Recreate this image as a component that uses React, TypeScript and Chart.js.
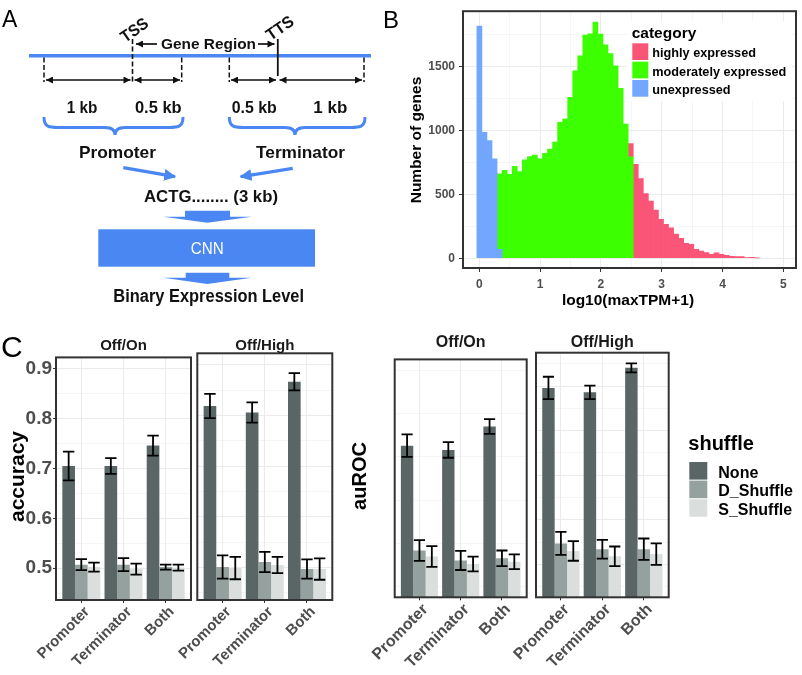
import React, { useEffect, useRef } from 'react';
import { Chart, registerables } from 'chart.js';

Chart.register(...registerables);

const SANS = "'Liberation Sans', Arial, Helvetica, sans-serif";
const DIAGRAM_FONT = "'Liberation Sans', Arial, sans-serif";
const AXIS_TEXT = '#4d4d4d';
const GRID_COLOR = '#ebebeb';
const PANEL_BORDER = '#333333';
const DIAGRAM_BLUE = '#4b87f2';

// ---------- Panel B : histogram ----------
const HIST_BIN_WIDTH = 0.083;
const UNEXPRESSED_FIRST_BIN = 0;
const UNEXPRESSED_COUNTS = [1817, 986, 921, 779, 70];
const MODERATE_FIRST_BIN = 4;
const MODERATE_COUNTS = [592, 688, 657, 719, 679, 771, 797, 807, 779, 821, 855, 909, 1064, 1090, 1259, 1468, 1584, 1747, 1757, 1849, 1755, 1670, 1602, 1506, 1330, 1050, 795];
const HIGH_FIRST_BIN = 30;
const HIGH_COUNTS = [102, 736, 624, 507, 447, 377, 304, 265, 239, 190, 156, 117, 109, 70, 57, 44, 31, 42, 31, 23, 16, 13, 13, 5, 8, 3];
const CATEGORY_LABELS = ['highly expressed', 'moderately expressed', 'unexpressed'];
const CATEGORY_COLORS = ['#fa5577', '#3cff00', '#72a6ff'];
const HIST_X_MAJOR = [0, 1, 2, 3, 4, 5];
const HIST_X_MINOR = [0.5, 1.5, 2.5, 3.5, 4.5];
const HIST_Y_MAJOR = [0, 500, 1000, 1500];
const HIST_Y_MINOR = [250, 750, 1250, 1750];

// ---------- Panel C : bar facets ----------
const FEATURES = ['Promoter', 'Terminator', 'Both'];
const SHUFFLE_LABELS = ['None', 'D_Shuffle', 'S_Shuffle'];
const SHUFFLE_COLORS = ['#5a6565', '#94a19e', '#dadfde'];
const FACETS = ['Off/On', 'Off/High'];

const ACC_OFF_ON_NONE = [0.705, 0.705, 0.746];
const ACC_OFF_ON_NONE_SD = [0.029, 0.016, 0.02];
const ACC_OFF_ON_DSHUF = [0.507, 0.507, 0.502];
const ACC_OFF_ON_DSHUF_SD = [0.011, 0.013, 0.005];
const ACC_OFF_ON_SSHUF = [0.502, 0.498, 0.501];
const ACC_OFF_ON_SSHUF_SD = [0.009, 0.011, 0.006];

const ACC_OFF_HIGH_NONE = [0.819, 0.806, 0.867];
const ACC_OFF_HIGH_NONE_SD = [0.024, 0.02, 0.017];
const ACC_OFF_HIGH_DSHUF = [0.501, 0.511, 0.497];
const ACC_OFF_HIGH_DSHUF_SD = [0.023, 0.02, 0.019];
const ACC_OFF_HIGH_SSHUF = [0.499, 0.505, 0.497];
const ACC_OFF_HIGH_SSHUF_SD = [0.022, 0.016, 0.021];

const AUROC_OFF_ON_NONE = [0.776, 0.766, 0.82];
const AUROC_OFF_ON_NONE_SD = [0.026, 0.018, 0.017];
const AUROC_OFF_ON_DSHUF = [0.534, 0.511, 0.516];
const AUROC_OFF_ON_DSHUF_SD = [0.024, 0.022, 0.018];
const AUROC_OFF_ON_SSHUF = [0.52, 0.503, 0.508];
const AUROC_OFF_ON_SSHUF_SD = [0.024, 0.017, 0.017];

const AUROC_OFF_HIGH_NONE = [0.896, 0.886, 0.941];
const AUROC_OFF_HIGH_NONE_SD = [0.025, 0.015, 0.01];
const AUROC_OFF_HIGH_DSHUF = [0.547, 0.534, 0.534];
const AUROC_OFF_HIGH_DSHUF_SD = [0.026, 0.021, 0.024];
const AUROC_OFF_HIGH_SSHUF = [0.53, 0.518, 0.523];
const AUROC_OFF_HIGH_SSHUF_SD = [0.022, 0.022, 0.024];

const ACC_Y_MAJOR = [0.5, 0.6, 0.7, 0.8, 0.9];
const ACC_Y_MINOR = [0.45, 0.55, 0.65, 0.75, 0.85];
const AUROC_Y_MAJOR = [0.5, 0.6, 0.7, 0.8, 0.9];
const AUROC_Y_MINOR = [0.45, 0.55, 0.65, 0.75, 0.85, 0.95];

// ---------- helpers ----------
const near = (list: number[], v: number) => list.some((m) => Math.abs(m - v) < 1e-9);

const panelBorder = {
  id: 'panelBorder',
  afterDraw(chart: any) {
    const { ctx, chartArea: a } = chart;
    ctx.save();
    ctx.strokeStyle = PANEL_BORDER;
    ctx.lineWidth = 2;
    ctx.strokeRect(a.left, a.top, a.right - a.left, a.bottom - a.top);
    ctx.restore();
  },
};

const errorBars = {
  id: 'errorBars',
  afterDatasetsDraw(chart: any) {
    const { ctx, chartArea: a } = chart;
    const y = chart.scales.y;
    ctx.save();
    ctx.beginPath();
    ctx.rect(a.left, a.top, a.right - a.left, a.bottom - a.top);
    ctx.clip();
    ctx.strokeStyle = '#000';
    ctx.lineWidth = 1.8;
    chart.data.datasets.forEach((ds: any, i: number) => {
      const meta = chart.getDatasetMeta(i);
      meta.data.forEach((bar: any, j: number) => {
        const v = ds.data[j].y;
        const e = ds.sd[j];
        const half = bar.width * 0.45;
        const yt = y.getPixelForValue(v + e);
        const yb = y.getPixelForValue(v - e);
        ctx.beginPath();
        ctx.moveTo(bar.x, yt);
        ctx.lineTo(bar.x, yb);
        ctx.moveTo(bar.x - half, yt);
        ctx.lineTo(bar.x + half, yt);
        ctx.moveTo(bar.x - half, yb);
        ctx.lineTo(bar.x + half, yb);
        ctx.stroke();
      });
    });
    ctx.restore();
  },
};

function toBins(first: number, counts: number[]) {
  return counts.map((c, i) => ({ x: (first + i) * HIST_BIN_WIDTH, y: c }));
}

function histogramConfig(): any {
  const dsBase = { barPercentage: 1, categoryPercentage: 1, borderWidth: 0 };
  const xTicks = [...HIST_X_MAJOR, ...HIST_X_MINOR].sort((a, b) => a - b);
  const yTicks = [...HIST_Y_MAJOR, ...HIST_Y_MINOR].sort((a, b) => a - b);
  return {
    type: 'bar',
    data: {
      datasets: [
        { ...dsBase, label: CATEGORY_LABELS[2], data: toBins(UNEXPRESSED_FIRST_BIN, UNEXPRESSED_COUNTS), backgroundColor: CATEGORY_COLORS[2] },
        { ...dsBase, label: CATEGORY_LABELS[1], data: toBins(MODERATE_FIRST_BIN, MODERATE_COUNTS), backgroundColor: CATEGORY_COLORS[1] },
        { ...dsBase, label: CATEGORY_LABELS[0], data: toBins(HIGH_FIRST_BIN, HIGH_COUNTS), backgroundColor: CATEGORY_COLORS[0] },
      ],
    },
    options: {
      responsive: false,
      animation: false,
      devicePixelRatio: 1,
      layout: { padding: { top: 10, right: 6, left: 0, bottom: 0 } },
      plugins: { legend: { display: false }, tooltip: { enabled: false }, title: { display: false } },
      scales: {
        x: {
          type: 'linear',
          stacked: true,
          min: -0.27,
          max: 5.21,
          bounds: 'data',
          offset: false,
          afterBuildTicks: (s: any) => { s.ticks = xTicks.map((v) => ({ value: v })); },
          afterFit: (s: any) => { s.height = 62; },
          ticks: {
            autoSkip: false,
            maxRotation: 0,
            padding: 5,
            color: AXIS_TEXT,
            font: { family: SANS, size: 12, weight: 'bold' },
            callback: (v: number) => (near(HIST_X_MAJOR, v) ? String(v) : ''),
          },
          grid: {
            offset: false,
            color: GRID_COLOR,
            lineWidth: (c: any) => (c.tick && near(HIST_X_MAJOR, c.tick.value) ? 1 : 0.5),
            tickColor: (c: any) => (c.tick && near(HIST_X_MAJOR, c.tick.value) ? PANEL_BORDER : 'rgba(0,0,0,0)'),
            tickLength: 4,
          },
          border: { display: false },
        },
        y: {
          type: 'linear',
          stacked: true,
          min: -76,
          max: 1934,
          bounds: 'data',
          afterBuildTicks: (s: any) => { s.ticks = yTicks.map((v) => ({ value: v })); },
          afterFit: (s: any) => { s.width = 63; },
          ticks: {
            padding: 4,
            color: AXIS_TEXT,
            font: { family: SANS, size: 12, weight: 'bold' },
            callback: (v: number) => (near(HIST_Y_MAJOR, v) ? String(v) : ''),
          },
          grid: {
            color: GRID_COLOR,
            lineWidth: (c: any) => (c.tick && near(HIST_Y_MAJOR, c.tick.value) ? 1 : 0.5),
            tickColor: (c: any) => (c.tick && near(HIST_Y_MAJOR, c.tick.value) ? PANEL_BORDER : 'rgba(0,0,0,0)'),
            tickLength: 4,
          },
          border: { display: false },
        },
      },
    },
    plugins: [panelBorder],
  };
}

type Series = { label: string; values: number[]; sd: number[]; color: string };
type FacetSpec = {
  series: Series[];
  yMin: number;
  yMax: number;
  yMajor: number[];
  yMinor: number[];
  showY: boolean;
  yAxisWidth: number;
  xAxisHeight: number;
  padding: { left: number; right: number; top: number; bottom: number };
  yFont: number;
  xFont: number;
  yTickPadding: number;
};

function facetConfig(p: FacetSpec): any {
  const yTicks = [...p.yMajor, ...p.yMinor].sort((a, b) => a - b);
  const xTicks = FEATURES.map((_, i) => i + 1);
  return {
    type: 'bar',
    data: {
      datasets: p.series.map((s) => ({
        label: s.label,
        data: s.values.map((v, i) => ({ x: i + 1, y: v })),
        sd: s.sd,
        backgroundColor: s.color,
        borderWidth: 0,
        categoryPercentage: 0.9,
        barPercentage: 1,
      })),
    },
    options: {
      responsive: false,
      animation: false,
      devicePixelRatio: 1,
      layout: { padding: p.padding },
      plugins: { legend: { display: false }, tooltip: { enabled: false }, title: { display: false } },
      scales: {
        x: {
          type: 'linear',
          min: 0.4,
          max: 3.6,
          bounds: 'data',
          offset: false,
          afterBuildTicks: (s: any) => { s.ticks = xTicks.map((v) => ({ value: v })); },
          afterFit: (s: any) => { s.height = p.xAxisHeight; },
          ticks: {
            autoSkip: false,
            minRotation: 45,
            maxRotation: 45,
            padding: 0,
            labelOffset: 6,
            color: AXIS_TEXT,
            font: { family: SANS, size: p.xFont, weight: 'bold' },
            callback: (v: number) => FEATURES[Math.round(v) - 1] ?? '',
          },
          grid: { offset: false, color: GRID_COLOR, lineWidth: 1, tickColor: PANEL_BORDER, tickLength: 3 },
          border: { display: false },
        },
        y: {
          type: 'linear',
          min: p.yMin,
          max: p.yMax,
          bounds: 'data',
          afterBuildTicks: (s: any) => { s.ticks = yTicks.map((v) => ({ value: v })); },
          afterFit: (s: any) => { s.width = p.yAxisWidth; },
          ticks: {
            display: p.showY,
            padding: p.yTickPadding,
            color: AXIS_TEXT,
            font: { family: SANS, size: p.yFont, weight: 'bold' },
            callback: (v: number) => (near(p.yMajor, v) ? v.toFixed(1) : ''),
          },
          grid: {
            color: GRID_COLOR,
            drawTicks: p.showY,
            lineWidth: (c: any) => (c.tick && near(p.yMajor, c.tick.value) ? 1 : 0.5),
            tickColor: (c: any) => (c.tick && near(p.yMajor, c.tick.value) ? PANEL_BORDER : 'rgba(0,0,0,0)'),
            tickLength: 3,
          },
          border: { display: false },
        },
      },
    },
    plugins: [panelBorder, errorBars],
  };
}

function seriesOf(none: number[], noneSd: number[], d: number[], dSd: number[], s: number[], sSd: number[]): Series[] {
  return [
    { label: SHUFFLE_LABELS[0], values: none, sd: noneSd, color: SHUFFLE_COLORS[0] },
    { label: SHUFFLE_LABELS[1], values: d, sd: dSd, color: SHUFFLE_COLORS[1] },
    { label: SHUFFLE_LABELS[2], values: s, sd: sSd, color: SHUFFLE_COLORS[2] },
  ];
}

function ChartCanvas(props: { left: number; top: number; width: number; height: number; build: () => any }) {
  const ref = useRef<HTMLCanvasElement>(null);
  useEffect(() => {
    if (!ref.current) return;
    const chart = new Chart(ref.current, props.build());
    return () => chart.destroy();
  }, []);
  return (
    <canvas
      ref={ref}
      width={props.width}
      height={props.height}
      style={{ position: 'absolute', left: props.left, top: props.top, width: props.width, height: props.height }}
    />
  );
}

const accOffOn = () =>
  facetConfig({
    series: seriesOf(ACC_OFF_ON_NONE, ACC_OFF_ON_NONE_SD, ACC_OFF_ON_DSHUF, ACC_OFF_ON_DSHUF_SD, ACC_OFF_ON_SSHUF, ACC_OFF_ON_SSHUF_SD),
    yMin: 0.436, yMax: 0.923, yMajor: ACC_Y_MAJOR, yMinor: ACC_Y_MINOR,
    showY: true, yAxisWidth: 56, xAxisHeight: 75,
    padding: { left: 0, right: 4, top: 8.3, bottom: 0 },
    yFont: 19, xFont: 15, yTickPadding: 1,
  });
const accOffHigh = () =>
  facetConfig({
    series: seriesOf(ACC_OFF_HIGH_NONE, ACC_OFF_HIGH_NONE_SD, ACC_OFF_HIGH_DSHUF, ACC_OFF_HIGH_DSHUF_SD, ACC_OFF_HIGH_SSHUF, ACC_OFF_HIGH_SSHUF_SD),
    yMin: 0.436, yMax: 0.923, yMajor: ACC_Y_MAJOR, yMinor: ACC_Y_MINOR,
    showY: false, yAxisWidth: 0, xAxisHeight: 75,
    padding: { left: 47.3, right: 3.7, top: 8.3, bottom: 0 },
    yFont: 19, xFont: 15, yTickPadding: 1,
  });
const aurocOffOn = () =>
  facetConfig({
    series: seriesOf(AUROC_OFF_ON_NONE, AUROC_OFF_ON_NONE_SD, AUROC_OFF_ON_DSHUF, AUROC_OFF_ON_DSHUF_SD, AUROC_OFF_ON_SSHUF, AUROC_OFF_ON_SSHUF_SD),
    yMin: 0.426, yMax: 0.975, yMajor: AUROC_Y_MAJOR, yMinor: AUROC_Y_MINOR,
    showY: true, yAxisWidth: 59.7, xAxisHeight: 77.7,
    padding: { left: 0, right: 3.3, top: 7.7, bottom: 0 },
    yFont: 19, xFont: 16, yTickPadding: 3,
  });
const aurocOffHigh = () =>
  facetConfig({
    series: seriesOf(AUROC_OFF_HIGH_NONE, AUROC_OFF_HIGH_NONE_SD, AUROC_OFF_HIGH_DSHUF, AUROC_OFF_HIGH_DSHUF_SD, AUROC_OFF_HIGH_SSHUF, AUROC_OFF_HIGH_SSHUF_SD),
    yMin: 0.426, yMax: 0.975, yMajor: AUROC_Y_MAJOR, yMinor: AUROC_Y_MINOR,
    showY: false, yAxisWidth: 0, xAxisHeight: 77.7,
    padding: { left: 46, right: 3.3, top: 7.7, bottom: 0 },
    yFont: 19, xFont: 16, yTickPadding: 3,
  });

function DText(props: { x: number; y: number; size: number; w?: number; children: string; fill?: string; weight?: string; anchor?: string }) {
  return (
    <text
      x={props.x}
      y={props.y}
      fontFamily={DIAGRAM_FONT}
      fontSize={props.size}
      fontWeight={props.weight ?? 'bold'}
      fill={props.fill ?? '#111'}
      textAnchor={props.anchor ?? 'middle'}
      textLength={props.w}
      lengthAdjust="spacingAndGlyphs"
    >
      {props.children}
    </text>
  );
}

function bracePath(x1: number, x2: number, c: number, y0: number, y1: number, yb: number) {
  return `M ${x1} ${y0} C ${x1} ${y1}, ${x1 + 6} ${y1}, ${x1 + 14} ${y1} L ${c - 10} ${y1} C ${c - 4} ${y1}, ${c} ${y1 + 2}, ${c} ${yb} C ${c} ${y1 + 2}, ${c + 4} ${y1}, ${c + 10} ${y1} L ${x2 - 14} ${y1} C ${x2 - 6} ${y1}, ${x2} ${y1}, ${x2} ${y0}`;
}

function Overlay() {
  const black = '#111';
  return (
    <svg width={802} height={675} style={{ position: 'absolute', left: 0, top: 0, pointerEvents: 'none' }}>
      <defs>
        <marker id="blk" viewBox="0 0 10 10" refX="10" refY="5" markerWidth="8" markerHeight="7" markerUnits="userSpaceOnUse" orient="auto-start-reverse">
          <path d="M0,0 L10,5 L0,10 z" fill={black} />
        </marker>
        <marker id="blu" viewBox="0 0 10 10" refX="9" refY="5" markerWidth="12" markerHeight="12" markerUnits="userSpaceOnUse" orient="auto">
          <path d="M0,0 L10,5 L0,10 z" fill={DIAGRAM_BLUE} />
        </marker>
      </defs>

      {/* Panel A */}
      <text x={2} y={27} fontFamily={SANS} fontSize={23} fill="#000">A</text>
      <line x1={29} y1={55.7} x2={371} y2={55.7} stroke={DIAGRAM_BLUE} strokeWidth={3.5} />
      <line x1={132.5} y1={39} x2={132.5} y2={83} stroke={black} strokeWidth={1.6} strokeDasharray="5 2.5" />
      <line x1={277.8} y1={39} x2={277.8} y2={76} stroke={black} strokeWidth={1.8} />
      {[44, 181.7, 229.3, 364].map((x) => (
        <line key={x} x1={x} y1={57.5} x2={x} y2={82} stroke={black} strokeWidth={1.5} strokeDasharray="5 2.5" />
      ))}
      {[[46, 130.5], [134.5, 180], [231, 276], [279.5, 362]].map(([a, b]) => (
        <line key={a} x1={a} y1={80} x2={b} y2={80} stroke={black} strokeWidth={1.7} markerStart="url(#blk)" markerEnd="url(#blk)" />
      ))}
      <line x1={157} y1={44} x2={136} y2={44} stroke={black} strokeWidth={1.7} markerEnd="url(#blk)" />
      <line x1={258} y1={44} x2={274.5} y2={44} stroke={black} strokeWidth={1.7} markerEnd="url(#blk)" />
      <DText x={208.5} y={48.5} size={15.5} w={95}>Gene Region</DText>
      <g transform="translate(137.5,34.5) rotate(-35)">
        <DText x={0} y={0} size={16.5} w={30}>TSS</DText>
      </g>
      <g transform="translate(283,32.5) rotate(-35)">
        <DText x={0} y={0} size={16.5} w={30}>TTS</DText>
      </g>
      <DText x={82} y={112.7} size={16} w={30.7}>1 kb</DText>
      <DText x={158.3} y={112.7} size={16} w={46.7}>0.5 kb</DText>
      <DText x={254.2} y={112.7} size={16} w={45}>0.5 kb</DText>
      <DText x={330.3} y={112.7} size={16} w={34}>1 kb</DText>
      <path d={bracePath(44, 183, 115, 117, 127.5, 135)} fill="none" stroke={DIAGRAM_BLUE} strokeWidth={3} />
      <path d={bracePath(229.3, 365, 295, 117, 127.5, 135)} fill="none" stroke={DIAGRAM_BLUE} strokeWidth={3} />
      <DText x={117.5} y={158.3} size={16.5} w={77}>Promoter</DText>
      <DText x={300.5} y={158.3} size={16.5} w={89}>Terminator</DText>
      <line x1={123.3} y1={167.7} x2={175} y2={176.7} stroke={DIAGRAM_BLUE} strokeWidth={3.3} markerEnd="url(#blu)" />
      <line x1={292.7} y1={168.3} x2={240.7} y2={176.7} stroke={DIAGRAM_BLUE} strokeWidth={3.3} markerEnd="url(#blu)" />
      <DText x={211} y={201.7} size={16.5} w={134}>ACTG........ (3 kb)</DText>
      <polygon points="185,210.7 230,210.7 230,216.7 251.7,216.7 207.3,222.7 163.3,216.7 185,216.7" fill={DIAGRAM_BLUE} />
      <rect x={98.3} y={229.3} width={216.7} height={37.4} fill={DIAGRAM_BLUE} />
      <DText x={207.3} y={254.3} size={16.5} w={33} fill="#fff" weight="normal">CNN</DText>
      <polygon points="185.7,272.7 229.3,272.7 229.3,277.7 251.7,277.7 207.3,284 163.3,277.7 185.7,277.7" fill={DIAGRAM_BLUE} />
      <DText x={208.7} y={301.7} size={18} w={190.7}>Binary Expression Level</DText>

      {/* Panel B texts */}
      <text x={383} y={28} fontFamily={SANS} fontSize={24} fill="#000">B</text>
      <text transform="translate(421,140) rotate(-90)" textAnchor="middle" fontFamily={SANS} fontSize={15.5} fontWeight="bold" fill="#000">Number of genes</text>
      <text x={628} y={305} textAnchor="middle" fontFamily={SANS} fontSize={15.5} fontWeight="bold" fill="#000">log10(maxTPM+1)</text>
      <rect x={627} y={21} width={165} height={80} fill="#fff" />
      <text x={631.7} y={37.5} fontFamily={SANS} fontSize={15.5} fontWeight="bold" fill="#000">category</text>
      {CATEGORY_LABELS.map((lab, i) => (
        <g key={lab}>
          <rect x={632.3} y={43.3 + i * 18.35} width={16} height={16.7} fill={CATEGORY_COLORS[i]} />
          <text x={652.3} y={57.3 + i * 18.35} fontFamily={SANS} fontSize={12.7} fontWeight="bold" fill="#000">{lab}</text>
        </g>
      ))}

      {/* Panel C texts */}
      <text x={1} y={357} fontFamily={SANS} fontSize={30} fill="#000">C</text>
      <text x={123.5} y={350} textAnchor="middle" fontFamily={SANS} fontSize={15} fontWeight="bold" fill="#1a1a1a">{FACETS[0]}</text>
      <text x={264.8} y={350} textAnchor="middle" fontFamily={SANS} fontSize={15} fontWeight="bold" fill="#1a1a1a">{FACETS[1]}</text>
      <text x={460.7} y={346.5} textAnchor="middle" fontFamily={SANS} fontSize={16} fontWeight="bold" fill="#1a1a1a">{FACETS[0]}</text>
      <text x={602.3} y={346.5} textAnchor="middle" fontFamily={SANS} fontSize={16} fontWeight="bold" fill="#1a1a1a">{FACETS[1]}</text>
      <text transform="translate(24,476.5) rotate(-90)" textAnchor="middle" fontFamily={SANS} fontSize={21} fontWeight="bold" fill="#000">accuracy</text>
      <text transform="translate(366,476) rotate(-90)" textAnchor="middle" fontFamily={SANS} fontSize={20} fontWeight="bold" fill="#000">auROC</text>
      <text x={688.3} y={450} fontFamily={SANS} fontSize={20} fontWeight="bold" fill="#000">shuffle</text>
      {SHUFFLE_LABELS.map((lab, i) => (
        <g key={lab}>
          <rect x={689.3} y={462 + i * 18.6} width={18} height={17.6} fill={SHUFFLE_COLORS[i]} />
          <text x={718.3} y={477.5 + i * 18.7} fontFamily={SANS} fontSize={16} fontWeight="bold" fill="#000">{lab}</text>
        </g>
      ))}
    </svg>
  );
}

export default function App() {
  return (
    <div style={{ position: 'absolute', left: 0, top: 0, width: 802, height: 675, background: '#fff', overflow: 'hidden' }}>
      <ChartCanvas left={400} top={0} width={402} height={330} build={histogramConfig} />
      <ChartCanvas left={0} top={345} width={195} height={330} build={accOffOn} />
      <ChartCanvas left={150} top={345} width={186} height={330} build={accOffHigh} />
      <ChartCanvas left={335} top={345} width={195} height={330} build={aurocOffOn} />
      <ChartCanvas left={490} top={345} width={182} height={330} build={aurocOffHigh} />
      <Overlay />
    </div>
  );
}
